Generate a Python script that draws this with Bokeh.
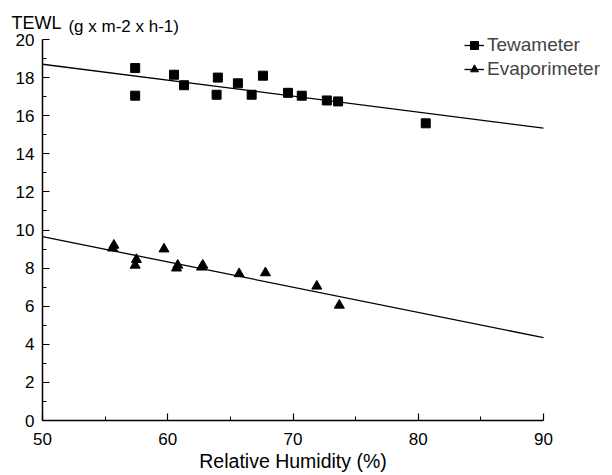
from bokeh.plotting import figure
from bokeh.models import Range1d, Label, Legend, LegendItem, FixedTicker
from bokeh.embed import file_html
from bokeh.resources import INLINE

# ---- data ----
tewa_x = [57.4, 57.4, 60.5, 61.3, 64.0, 63.9, 65.6, 66.7, 67.6, 69.6, 70.7, 72.7, 73.6, 80.6]
tewa_y = [18.5, 17.05, 18.15, 17.6, 18.0, 17.1, 17.7, 17.1, 18.1, 17.2, 17.05, 16.8, 16.75, 15.6]

evap_x = [55.6, 55.7, 57.5, 57.4, 59.7, 60.7, 60.8, 62.7, 62.8, 65.7, 67.8, 71.9, 73.7]
evap_y = [9.05, 9.2, 8.45, 8.15, 9.0, 8.0, 8.15, 8.05, 8.15, 7.7, 7.75, 7.05, 6.05]

fit_x = [50, 90]
tewa_fit = [18.7, 15.35]
evap_fit = [9.65, 4.35]

x_ticks = [50, 60, 70, 80, 90]
x_minor = [55, 65, 75, 85]
y_ticks = [0, 2, 4, 6, 8, 10, 12, 14, 16, 18, 20]
y_minor = [1, 3, 5, 7, 9, 11, 13, 15, 17, 19]

FONT = "Liberation Sans"

# ---- layout: frame covers whole canvas, axes pinned at x=50 / y=0 ----
W, H = 610, 474
X0_PX, Y0_PX = 42, 420          # pixel position of (50, 0)
XS = 501 / 40.0                 # px per x unit
YS = 381 / 20.0                 # px per y unit
x_start = 50 - X0_PX / XS
x_end = x_start + W / XS
y_end = Y0_PX / YS
y_start = y_end - H / YS

p = figure(width=W, height=H, output_backend="svg", toolbar_location=None,
           x_range=Range1d(x_start, x_end), y_range=Range1d(y_start, y_end),
           min_border=0)
p.outline_line_color = None
p.grid.grid_line_color = None
p.background_fill_color = "white"
p.border_fill_color = "white"

p.xaxis.fixed_location = 0
p.yaxis.fixed_location = 50
p.xaxis.bounds = (50, 90)
p.yaxis.bounds = (0, 20)

for ax in (p.xaxis[0], p.yaxis[0]):
    ax.axis_line_width = 1.5
    ax.axis_line_color = "black"
    ax.major_tick_in = 7
    ax.major_tick_out = 0
    ax.minor_tick_in = 4
    ax.minor_tick_out = 0
    ax.major_tick_line_color = "black"
    ax.minor_tick_line_color = "black"
    ax.major_tick_line_width = 1.2
    ax.minor_tick_line_width = 1
    ax.major_label_text_font = FONT
    ax.major_label_text_font_size = "17px"
    ax.major_label_text_color = "black"

p.xaxis.ticker = FixedTicker(ticks=x_ticks, minor_ticks=x_minor)
p.yaxis.ticker = FixedTicker(ticks=y_ticks, minor_ticks=y_minor)
p.xaxis.major_label_standoff = 12
p.yaxis.major_label_standoff = 8

# regression lines
l1 = p.line(fit_x, tewa_fit, line_color="black", line_width=1.3)
l2 = p.line(fit_x, evap_fit, line_color="black", line_width=1.3)

# points
s1 = p.scatter(tewa_x, tewa_y, marker="square", size=9, fill_color="black", line_color="black")
s2 = p.scatter(evap_x, evap_y, marker="triangle", size=10, fill_color="black", line_color="black")

# legend (location = bottom-left corner, px from frame bottom-left)
legend = Legend(items=[LegendItem(label="Tewameter", renderers=[l1, s1]),
                       LegendItem(label="Evaporimeter", renderers=[l2, s2])],
                location=(464, H - 80), padding=0, margin=0, spacing=2,
                glyph_width=20, glyph_height=20, label_height=20, label_standoff=3,
                label_text_font=FONT, label_text_font_size="19px",
                border_line_color=None, background_fill_alpha=0)
p.add_layout(legend, "center")

# titles as labels
p.add_layout(Label(x=47.525, y=20.86, text="TEWL", text_font=FONT, text_font_size="18px",
                   text_color="black", text_baseline="alphabetic"))
p.add_layout(Label(x=52.07, y=20.7, text="(g x m-2 x h-1)", text_font=FONT, text_font_size="17px",
                   text_color="black", text_baseline="alphabetic"))
p.add_layout(Label(x=70, y=-2.12, text="Relative Humidity (%)", text_font=FONT, text_font_size="19.5px",
                   text_color="black", text_baseline="alphabetic", text_align="center"))

open("out.html", "w").write(file_html(p, INLINE))
